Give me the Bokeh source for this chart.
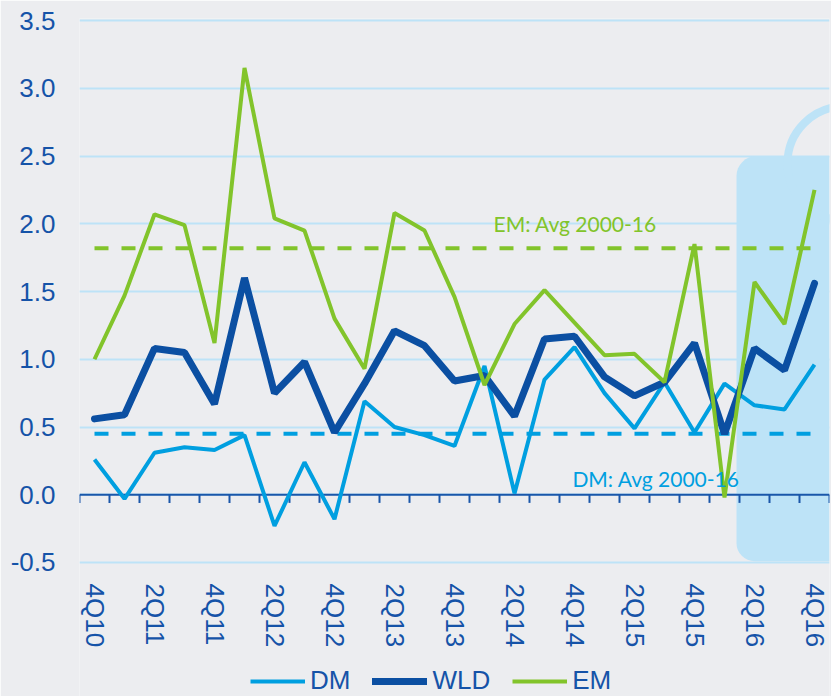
import numpy as np
from bokeh.plotting import figure
from bokeh.models import (Range1d, FixedTicker, BoxAnnotation, Legend, LegendItem,
                          NumeralTickFormatter, Label)
from bokeh.embed import file_html
from bokeh.resources import INLINE

# ---------------- data ----------------
quarters = ["4Q10", "1Q11", "2Q11", "3Q11", "4Q11", "1Q12", "2Q12", "3Q12", "4Q12",
            "1Q13", "2Q13", "3Q13", "4Q13", "1Q14", "2Q14", "3Q14", "4Q14",
            "1Q15", "2Q15", "3Q15", "4Q15", "1Q16", "2Q16", "3Q16", "4Q16"]
dm = [0.26, -0.03, 0.31, 0.35, 0.33, 0.44, -0.23, 0.24, -0.18, 0.69, 0.50, 0.44, 0.36,
      0.95, 0.01, 0.85, 1.09, 0.75, 0.49, 0.83, 0.46, 0.82, 0.66, 0.63, 0.96]
wld = [0.56, 0.59, 1.08, 1.05, 0.67, 1.60, 0.75, 0.98, 0.46, 0.82, 1.21, 1.10, 0.84,
       0.88, 0.58, 1.15, 1.17, 0.87, 0.73, 0.83, 1.12, 0.45, 1.08, 0.92, 1.56]
em = [1.00, 1.47, 2.07, 1.99, 1.12, 3.15, 2.04, 1.95, 1.30, 0.93, 2.08, 1.95, 1.46,
      0.81, 1.26, 1.51, 1.27, 1.03, 1.04, 0.83, 1.85, -0.02, 1.57, 1.26, 2.25]
em_avg = 1.82
dm_avg = 0.45
yticks = [-0.5, 0.0, 0.5, 1.0, 1.5, 2.0, 2.5, 3.0, 3.5]
xlabel_step = 2

# ---------------- style ----------------
bg = "#ecedf0"
grid_c = "#bde3f7"
hl_c = "#bde3f7"
dm_c = "#009fe0"
wld_c = "#0b4fa2"
em_c = "#82c42b"
txt_c = "#1553a8"
axis_c = "#1a57aa"

n = len(quarters)
xs = np.arange(n)
y_top = 3.515
y_bottom_visual = -0.515
y_bottom = -1.489   # frame reaches the page bottom so the legend can sit there

p = figure(width=831, height=696, output_backend="svg", toolbar_location=None,
           x_range=Range1d(-0.5, n - 0.5), y_range=Range1d(y_bottom, y_top),
           min_border_left=79, min_border_right=2, min_border_top=18,
           min_border_bottom=0,
           background_fill_color=bg, border_fill_color=bg, outline_line_color=None)

# x axis drawn at the bottom of the value area
xa = p.xaxis[0]
xa.fixed_location = y_bottom_visual
xa.ticker = FixedTicker(ticks=list(range(0, n, xlabel_step)))
xa.major_label_overrides = {i: quarters[i] for i in range(0, n, xlabel_step)}
xa.major_label_orientation = "vertical"
xa.axis_line_color = None
xa.major_tick_line_color = None
xa.minor_tick_line_color = None
xa.major_tick_out = 0
xa.major_label_standoff = 19
xa.major_label_text_font = "Liberation Sans"
xa.major_label_text_font_size = "26px"
xa.major_label_text_color = txt_c

ya = p.yaxis[0]
ya.ticker = FixedTicker(ticks=yticks)
ya.formatter = NumeralTickFormatter(format="0.0")
ya.axis_line_color = None
ya.major_tick_line_color = None
ya.minor_tick_line_color = None
ya.major_tick_out = 0
ya.major_label_standoff = 24
ya.major_label_text_font = "Liberation Sans"
ya.major_label_text_font_size = "26px"
ya.major_label_text_color = txt_c

p.xgrid.visible = False
p.ygrid.grid_line_color = grid_c
p.ygrid.grid_line_width = 2

# highlighted region (forecast box)
box = BoxAnnotation(left=21.4, bottom=-0.49, top=2.5,
                    fill_color=hl_c, fill_alpha=1.0, line_alpha=0,
                    border_radius=(20, 0, 0, 18), level="underlay")
p.add_layout(box)
# ring on top of the box
p.scatter(x=[25.0], y=[2.445], size=114, marker="circle", fill_alpha=0,
          line_color=hl_c, line_width=8)

# zero axis line with category ticks
edges = np.append(xs - 0.5, n - 0.5)
p.segment(x0=[edges[0]], y0=[0], x1=[edges[-1]], y1=[0], line_color=axis_c, line_width=2)
p.segment(x0=edges, y0=np.zeros(len(edges)), x1=edges, y1=np.full(len(edges), -0.06),
          line_color=axis_c, line_width=2)

# average lines
p.line(x=[xs[0], xs[-1]], y=[em_avg, em_avg], line_color=em_c, line_width=4,
       line_dash="14 13")
p.line(x=[xs[0], xs[-1]], y=[dm_avg, dm_avg], line_color=dm_c, line_width=4,
       line_dash="14 13")

# series
r_dm = p.line(xs, dm, line_color=dm_c, line_width=4)
r_wld = p.line(xs, wld, line_color=wld_c, line_width=7, line_cap="round")
r_em = p.line(xs, em, line_color=em_c, line_width=4)

# labels
p.add_layout(Label(x=13.3, y=2.0, text="EM: Avg 2000-16", text_font="Lato",
                   text_font_size="21px", text_color=em_c, text_baseline="alphabetic"))
p.add_layout(Label(x=15.93, y=0.118, text="DM: Avg 2000-16", text_font="Lato",
                   text_font_size="21px", text_color=dm_c, text_baseline="alphabetic"))

legend = Legend(items=[LegendItem(label="DM", renderers=[r_dm]),
                       LegendItem(label="WLD", renderers=[r_wld]),
                       LegendItem(label="EM", renderers=[r_em])],
                location=(171, 0), orientation="horizontal",
                label_text_font="Liberation Sans", label_text_font_size="26px",
                label_text_color=txt_c, glyph_width=55, glyph_height=28,
                label_height=28, label_standoff=5, spacing=22, padding=0, margin=0,
                background_fill_alpha=0, border_line_alpha=0)
p.add_layout(legend)

open("out.html", "w").write(file_html(p, INLINE))
